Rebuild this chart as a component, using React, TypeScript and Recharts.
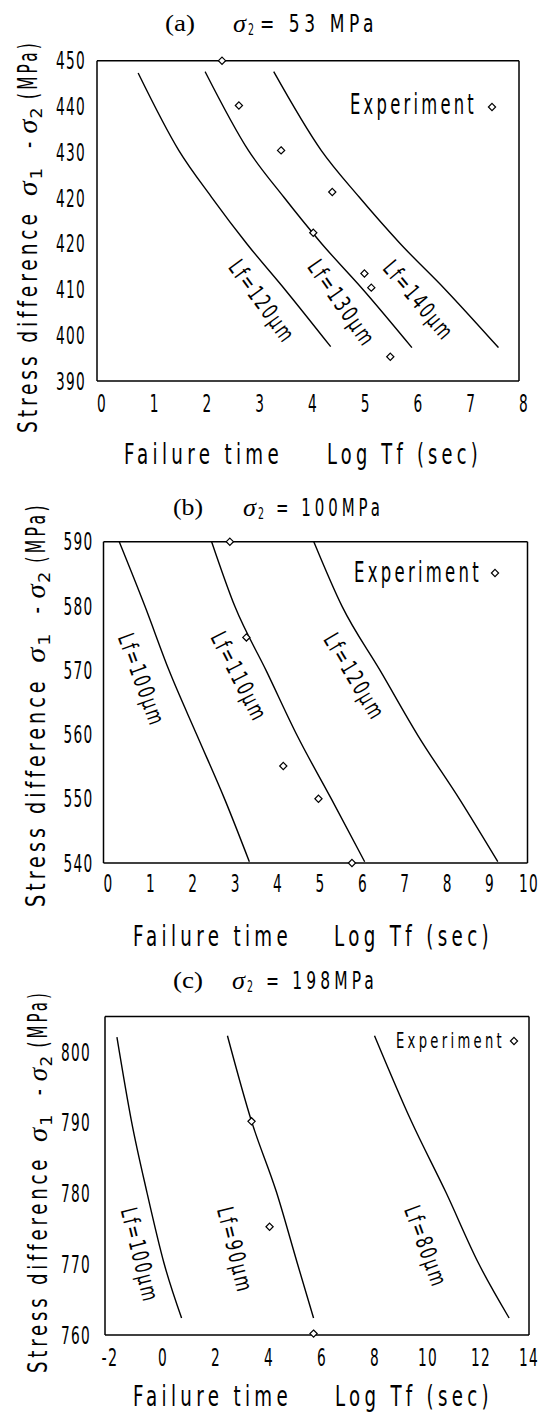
import React from 'react';
import { ComposedChart, Line, Scatter, XAxis, YAxis, ReferenceDot } from 'recharts';

type Pt = [number, number];

const FONT = "'DejaVu Sans Condensed', 'Liberation Sans', sans-serif";
const SERIF = "'Liberation Serif', 'DejaVu Serif', serif";

// ---- (a) sigma2 = 53 MPa ----
const A_X_TICKS = [0, 1, 2, 3, 4, 5, 6, 7, 8];
const A_Y_TICKS = [380, 390, 400, 410, 420, 430, 440, 450];
const A_Y_LABELS = ['390', '400', '410', '420', '420', '430', '440', '450'];
const A_LF120: Pt[] = [[0.78, 447.3], [1.55, 430.4], [2.17, 420.2], [2.84, 410.0], [3.57, 399.9], [4.43, 387.5]];
const A_LF130: Pt[] = [[2.05, 447.6], [2.87, 430.4], [3.54, 420.2], [4.26, 410.0], [5.05, 399.9], [5.97, 387.3]];
const A_LF140: Pt[] = [[3.35, 447.6], [4.25, 430.4], [4.97, 420.2], [5.75, 410.0], [6.61, 399.9], [7.61, 387.3]];
const A_EXP: Pt[] = [[2.37, 450], [2.69, 440.2], [3.49, 430.4], [4.46, 421.3], [4.1, 412.4], [5.07, 403.5], [5.2, 400.4], [5.56, 385.3]];
const A_NAMES = ['Lf=120μm', 'Lf=130μm', 'Lf=140μm'];

// ---- (b) sigma2 = 100 MPa ----
const B_X_TICKS = [0, 1, 2, 3, 4, 5, 6, 7, 8, 9, 10];
const B_Y_TICKS = [540, 550, 560, 570, 580, 590];
const B_Y_MINOR = [540, 545, 550, 555, 560, 565, 570, 575, 580, 585, 590];
const B_LF100: Pt[] = [[0.37, 590], [0.98, 579.9], [1.55, 569.9], [2.21, 559.8], [2.86, 549.9], [3.44, 540.2]];
const B_LF110: Pt[] = [[2.55, 590], [3.1, 579.9], [3.84, 569.9], [4.57, 559.8], [5.38, 549.9], [6.16, 540.2]];
const B_LF120: Pt[] = [[4.96, 590], [5.63, 579.9], [6.53, 569.9], [7.42, 559.8], [8.4, 549.9], [9.3, 540.2]];
const B_EXP: Pt[] = [[2.98, 590], [3.37, 575.1], [4.24, 555.1], [5.07, 550], [5.86, 540]];
const B_NAMES = ['Lf=100μm', 'Lf=110μm', 'Lf=120μm'];

// ---- (c) sigma2 = 198 MPa ----
const C_X_TICKS = [-2, 0, 2, 4, 6, 8, 10, 12, 14];
const C_Y_TICKS = [760, 770, 780, 790, 800];
const C_Y_MINOR = [760, 765, 770, 775, 780, 785, 790, 795, 800, 805];
const C_LF100: Pt[] = [[-1.55, 802.1], [-1.0, 790.2], [-0.42, 780.2], [0.23, 770.1], [0.89, 762.4]];
const C_LF90: Pt[] = [[2.62, 802.3], [3.53, 790.2], [4.47, 780.2], [5.26, 770.1], [5.87, 762.4]];
const C_LF80: Pt[] = [[8.17, 802.3], [9.56, 790.2], [10.86, 780.2], [12.1, 770.1], [13.25, 762.4]];
const C_EXP: Pt[] = [[3.53, 790.2], [4.21, 775.3], [5.87, 760.2]];
const C_NAMES = ['Lf=100μm', 'Lf=90μm', 'Lf=80μm'];

const toObj = (pts: Pt[]) => pts.map(([x, y]) => ({ x, y }));

const Diamond = (p: any) => {
  const { cx, cy } = p;
  const r = 3.6;
  return (
    <polygon
      points={`${cx},${cy - r} ${cx + r},${cy} ${cx},${cy + r} ${cx - r},${cy}`}
      fill="#fff"
      stroke="#000"
      strokeWidth={1.2}
    />
  );
};

// rough advance widths (em) of DejaVu Sans Condensed, to squeeze text into a narrow look
const ADV: Record<string, number> = {
  F: 0.52, a: 0.55, i: 0.25, l: 0.25, u: 0.57, r: 0.37, e: 0.55, ' ': 0.29, t: 0.35, m: 0.88,
  L: 0.5, o: 0.55, g: 0.57, T: 0.55, f: 0.32, '(': 0.35, ')': 0.35, s: 0.47, c: 0.5, E: 0.57,
  x: 0.53, p: 0.57, n: 0.57, S: 0.57, d: 0.57, M: 0.78, P: 0.54, '=': 0.75, '-': 0.33, 'μ': 0.57,
};
const measure = (s: string, size: number) =>
  [...s].reduce((a, c) => a + (ADV[c] ?? (/[0-9]/.test(c) ? 0.57 : 0.55)), 0) * size;

const Narrow = ({ x = 0, y = 0, len, size, ls = 4, anchor = 'start', rotate, children, baseline, family = FONT, italic }: any) => {
  const s = String(children);
  const w = measure(s, size) + s.length * ls;
  const k = len / w;
  return (
    <g transform={`translate(${x},${y})${rotate ? ` rotate(${rotate})` : ''} scale(${k},1)`}>
      <text x={0} y={0} fontSize={size} letterSpacing={ls} textAnchor={anchor}
        dominantBaseline={baseline} textLength={w} lengthAdjust="spacingAndGlyphs"
        fontFamily={family} fontStyle={italic ? 'italic' : undefined} fill="#000">
        {s}
      </text>
    </g>
  );
};

const tickLen = (s: string) => s.replace('-', '').length * 10 + (s.includes('-') ? 7 : 0);

// the figure prints its x numbers a little right of their ticks
const XTick = (pr: any) => {
  const s = String(pr.payload.value);
  const w = tickLen(s);
  const cx = Math.min(pr.x + 5, 539 - w / 2);
  return <Narrow x={cx} y={pr.y + 17.5} len={w} size={24} ls={2} anchor="middle">{s}</Narrow>;
};

const makeYTick = (fmt?: (v: number) => string) => (pr: any) => {
  const s = fmt ? fmt(pr.payload.value) : String(pr.payload.value);
  return <Narrow x={pr.x} y={pr.y + 8.7} len={tickLen(s)} size={24} ls={2} anchor="end">{s}</Narrow>;
};

interface CurveLabel {
  at: Pt;
  angle: number;
  len: number;
}

interface PanelProps {
  top: number;
  height: number;
  margin: { top: number; right: number; bottom: number; left: number };
  xDomain: [number, number];
  yDomain: [number, number];
  xTicks: number[];
  yTicks: number[];
  xMinor: number[];
  yMinor: number[];
  yFormat?: (v: number) => string;
  curves: Pt[][];
  points: Pt[];
  names: string[];
  labels: CurveLabel[];
  xGap: number;
  yGap: number;
}

const axisLine = { stroke: '#000', strokeWidth: 1.5 };
const tickLine = { stroke: '#000', strokeWidth: 1.2 };

const Panel = (p: PanelProps) => (
  <div style={{ position: 'absolute', left: 0, top: p.top, width: 542, height: p.height }}>
    <ComposedChart width={542} height={p.height} margin={p.margin}>
      <XAxis xAxisId="x" dataKey="x" type="number" domain={p.xDomain} ticks={p.xTicks} interval={0}
        tickLine={false} tickSize={0} tickMargin={p.xGap} axisLine={axisLine} tick={XTick} height={30} />
      <XAxis xAxisId="xb" type="number" domain={p.xDomain} ticks={p.xMinor} interval={0} allowDataOverflow
        orientation="bottom" mirror axisLine={false} tick={false} tickLine={tickLine} tickSize={5} height={20} />
      <XAxis xAxisId="xt" type="number" domain={p.xDomain} ticks={p.xMinor} interval={0} allowDataOverflow
        orientation="top" mirror axisLine={axisLine} tick={false} tickLine={tickLine} tickSize={5} height={20} />
      <YAxis yAxisId="y" dataKey="y" type="number" domain={p.yDomain} ticks={p.yTicks} interval={0}
        tickLine={false} tickSize={0} tickMargin={p.yGap} axisLine={axisLine} tick={makeYTick(p.yFormat)} width={60} />
      <YAxis yAxisId="yl" type="number" domain={p.yDomain} ticks={p.yMinor} interval={0} allowDataOverflow
        orientation="left" mirror axisLine={false} tick={false} tickLine={tickLine} tickSize={5} width={20} />
      <YAxis yAxisId="yr" type="number" domain={p.yDomain} ticks={p.yMinor} interval={0} allowDataOverflow
        orientation="right" mirror axisLine={axisLine} tick={false} tickLine={tickLine} tickSize={5} width={20} />
      {p.curves.map((c, i) => (
        <Line key={i} xAxisId="x" yAxisId="y" data={toObj(c)} dataKey="y" type="monotone"
          stroke="#000" strokeWidth={1.4} dot={false} isAnimationActive={false} />
      ))}
      <Scatter xAxisId="x" yAxisId="y" data={toObj(p.points)} dataKey="y" shape={Diamond} isAnimationActive={false} />
      {p.labels.map((l, i) => (
        <ReferenceDot key={i} xAxisId="x" yAxisId="y" x={l.at[0]} y={l.at[1]} r={0} ifOverflow="visible"
          shape={(s: any) => (
            <Narrow x={s.cx} y={s.cy} rotate={l.angle} anchor="middle"
              baseline="central" size={23} ls={3} len={l.len}>
              {p.names[i]}
            </Narrow>
          )} />
      ))}
    </ComposedChart>
  </div>
);

// pieces of the rotated y title, as fractions of its length from the bottom
const Y_PIECES: { s: string; f0: number; f1: number; sub?: boolean; sig?: boolean }[] = [
  { s: 'Stress difference', f0: 0, f1: 0.567 },
  { s: 'σ', f0: 0.603, f1: 0.64, sig: true },
  { s: '1', f0: 0.645, f1: 0.675, sub: true },
  { s: '-', f0: 0.725, f1: 0.75 },
  { s: 'σ', f0: 0.762, f1: 0.797, sig: true },
  { s: '2', f0: 0.8, f1: 0.828, sub: true },
  { s: '(MPa)', f0: 0.85, f1: 1 },
];

const YTitle = ({ x, bottom, len }: any) => (
  <g>
    {Y_PIECES.map((p, i) => (
      <Narrow key={i} x={p.sub ? x + 5 : x} y={bottom - p.f0 * len} rotate={-90}
        size={p.sub ? 16 : 27} ls={p.sub || p.sig ? 0 : 5} len={(p.f1 - p.f0) * len}
        family={p.sig ? SERIF : FONT} italic={p.sig}>
        {p.s}
      </Narrow>
    ))}
  </g>
);

const Texts = ({ t, title, ylab, xlab, legend }: any) => (
  <g>
    <Narrow x={title.px} y={title.y - 1} family={SERIF} size={24} ls={0} len={30}>{`(${t})`}</Narrow>
    <Narrow x={title.sx} y={title.y} size={25} ls={0} len={13} family={SERIF} italic>σ</Narrow>
    <Narrow x={title.sx + 15} y={title.y + 3} size={15} ls={0} len={6}>2</Narrow>
    <Narrow x={title.ex} y={title.y} size={25} ls={6} len={title.x1 - title.ex}>{`= ${title.val}`}</Narrow>
    <YTitle x={ylab.x} bottom={ylab.bottom} len={ylab.len} />
    <Narrow x={xlab.a0} y={xlab.y} size={28} ls={6} len={xlab.a1 - xlab.a0}>Failure time</Narrow>
    <Narrow x={xlab.b0} y={xlab.y} size={28} ls={6} len={xlab.b1 - xlab.b0}>Log Tf (sec)</Narrow>
    <Narrow x={legend.x0} y={legend.y} size={legend.size} ls={5} len={legend.x1 - legend.x0}>Experiment</Narrow>
    <polygon
      points={`${legend.dx},${legend.dy - 3.6} ${legend.dx + 3.6},${legend.dy} ${legend.dx},${legend.dy + 3.6} ${legend.dx - 3.6},${legend.dy}`}
      fill="#fff" stroke="#000" strokeWidth={1.2} />
  </g>
);

export default function App() {
  const aFmt = (v: number) => A_Y_LABELS[A_Y_TICKS.indexOf(v)] ?? String(v);
  return (
    <div style={{ position: 'absolute', left: 0, top: 0, width: 542, height: 1415, background: '#fff' }}>
      <Panel top={0} height={470} margin={{ top: 60.7, right: 23, bottom: 59, left: 37 }}
        xDomain={[0, 8]} yDomain={[380, 450]} xTicks={A_X_TICKS} yTicks={A_Y_TICKS}
        xMinor={A_X_TICKS} yMinor={A_Y_TICKS} yFormat={aFmt}
        curves={[A_LF120, A_LF130, A_LF140]} points={A_EXP} names={A_NAMES}
        labels={[{ at: [3.13, 397.4], angle: 54, len: 96 }, { at: [4.64, 397.0], angle: 55, len: 100 }, { at: [6.1, 397.6], angle: 50, len: 96 }]}
        xGap={13} yGap={11} />
      <Panel top={470} height={470} margin={{ top: 71.7, right: 14.5, bottom: 47, left: 43.5 }}
        xDomain={[0, 10]} yDomain={[540, 590]} xTicks={B_X_TICKS} yTicks={B_Y_TICKS}
        xMinor={B_X_TICKS} yMinor={B_Y_MINOR}
        curves={[B_LF100, B_LF110, B_LF120]} points={B_EXP} names={B_NAMES}
        labels={[{ at: [0.9, 568.5], angle: 70, len: 97 }, { at: [3.2, 569], angle: 63, len: 97 }, { at: [5.92, 569], angle: 59, len: 97 }]}
        xGap={11} yGap={10} />
      <Panel top={940} height={475} margin={{ top: 76.6, right: 13, bottom: 50, left: 45 }}
        xDomain={[-2, 14]} yDomain={[760, 805]} xTicks={C_X_TICKS} yTicks={C_Y_TICKS}
        xMinor={C_X_TICKS} yMinor={C_Y_MINOR}
        curves={[C_LF100, C_LF90, C_LF80]} points={C_EXP} names={C_NAMES}
        labels={[{ at: [-0.68, 771.3], angle: 76, len: 97 }, { at: [2.91, 772], angle: 76, len: 88 }, { at: [10.11, 772.5], angle: 70, len: 85 }]}
        xGap={13} yGap={14} />
      <svg width={542} height={1415} style={{ position: 'absolute', left: 0, top: 0, pointerEvents: 'none' }}>
        <Texts t="a" title={{ px: 165, sx: 233, ex: 260, x1: 378, y: 32, val: '53 MPa' }}
          ylab={{ x: 37, bottom: 433, len: 393 }}
          xlab={{ a0: 124, a1: 283, b0: 327, b1: 482, y: 464 }}
          legend={{ x0: 350, x1: 477, y: 114, size: 28, dx: 492, dy: 107 }} />
        <Texts t="b" title={{ px: 173, sx: 243, ex: 276, x1: 384, y: 516, val: '100MPa' }}
          ylab={{ x: 45, bottom: 907, len: 405 }}
          xlab={{ a0: 133, a1: 292, b0: 334, b1: 493, y: 946 }}
          legend={{ x0: 354, x1: 482, y: 582, size: 28, dx: 495, dy: 573 }} />
        <Texts t="c" title={{ px: 173, sx: 232, ex: 266, x1: 378, y: 989, val: '198MPa' }}
          ylab={{ x: 47, bottom: 1373, len: 383 }}
          xlab={{ a0: 133, a1: 292, b0: 335, b1: 493, y: 1406 }}
          legend={{ x0: 396, x1: 505, y: 1048, size: 22, dx: 514, dy: 1041 }} />
      </svg>
    </div>
  );
}
